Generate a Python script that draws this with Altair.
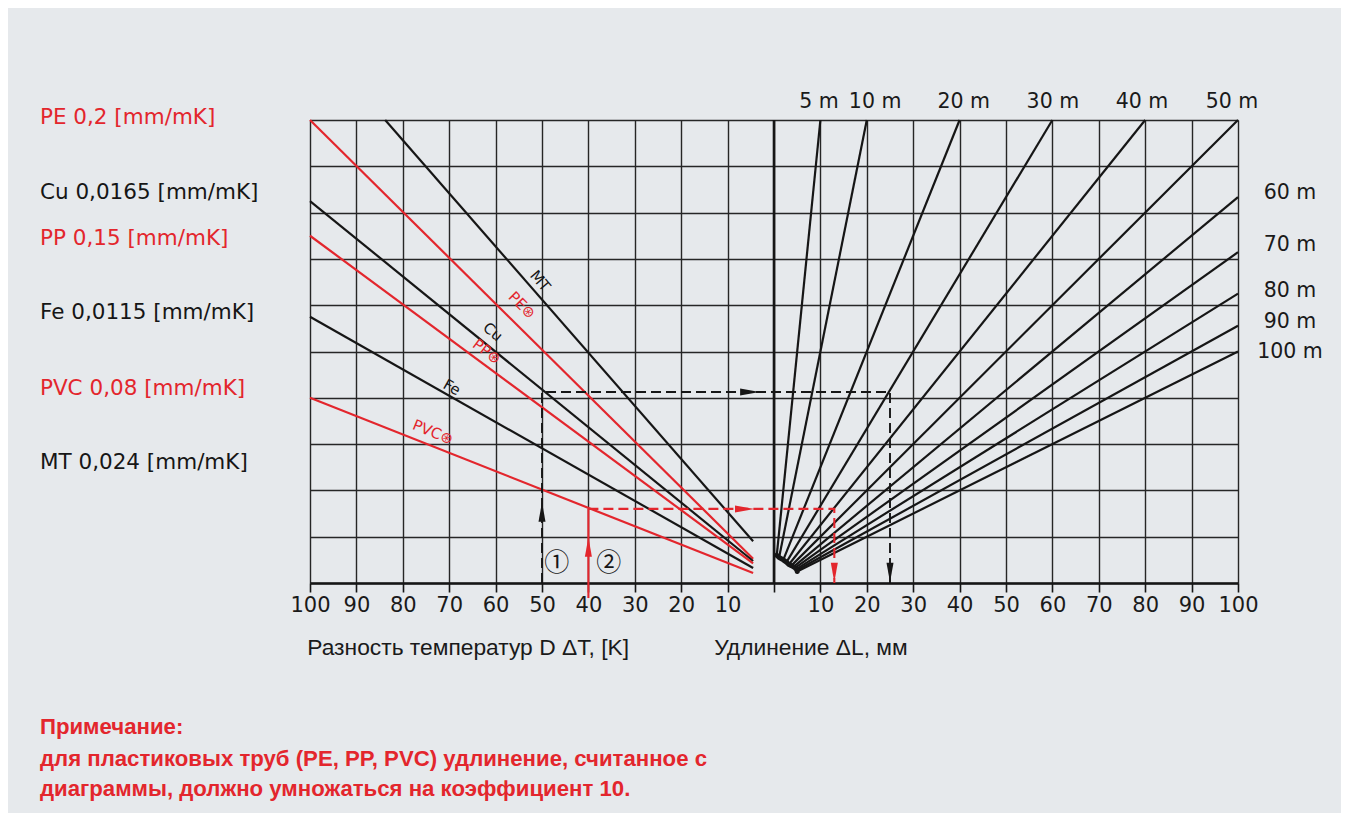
import altair as alt
import pandas as pd

RED = "#e3262d"
BLACK = "#161616"
BG = "#e6e9ec"
GRID = "#262626"

# ---- material lines (left panel, x = -dT) ----
mat_names = ["PE", "Cu", "PP", "Fe", "PVC", "MT"]
mat_legend = ["PE 0,2 [mm/mK]", "Cu 0,0165 [mm/mK]", "PP 0,15 [mm/mK]",
              "Fe 0,0115 [mm/mK]", "PVC 0,08 [mm/mK]", "MT 0,024 [mm/mK]"]
mat_colors = [RED, BLACK, RED, BLACK, RED, BLACK]
mat_x_start = [-100, -100, -100, -100, -100, -83.8]
mat_y_start = [2.0, 1.65, 1.5, 1.15, 0.8, 2.0]
mat_x_end = [-4.5, -4.5, -4.5, -4.5, -4.5, -4.5]
mat_y_end = [0.105, 0.095, 0.085, 0.065, 0.043, 0.18]
legend_y = [2.01, 1.685, 1.486, 1.166, 0.838, 0.518]

# labels written along the lines
lbl_text = ["MT", "PE\u229b", "Cu", "PP\u229b", "Fe", "PVC\u229b"]
lbl_color = [BLACK, RED, BLACK, RED, BLACK, RED]
lbl_x = [-50.4, -54.3, -60.6, -61.9, -69.4, -73.5]
lbl_y = [1.305, 1.2, 1.085, 1.0, 0.845, 0.652]
lbl_angle = [50, 45, 40, 37, 30, 22]

# ---- pipe length fan (right panel, x = dL in mm) ----
len_m = [5, 10, 20, 30, 40, 50, 60, 70, 80, 90, 100]
fan_x_top = [10, 20, 40, 60, 80, 100, 100, 100, 100, 100, 100]
fan_y_top = [2.0, 2.0, 2.0, 2.0, 2.0, 2.0, 1.667, 1.429, 1.25, 1.111, 1.0]
fan_x_bot = [0.6, 1.1, 2.0, 2.7, 3.2, 3.75, 4.2, 4.55, 4.8, 4.95, 5.0]
fan_y_bot = [0.12, 0.11, 0.10, 0.09, 0.08, 0.075, 0.07, 0.065, 0.06, 0.055, 0.05]
top_lbl = ["5 m", "10 m", "20 m", "30 m", "40 m", "50 m"]
top_lbl_x = [9.7, 21.8, 40.9, 60.1, 79.3, 98.7]
right_lbl = ["60 m", "70 m", "80 m", "90 m", "100 m"]
right_lbl_y = [1.685, 1.46, 1.261, 1.127, 0.998]

# ---- worked examples ----
ex1_x = [-50, -50, 25, 25]
ex1_y = [0.0, 0.825, 0.825, 0.0]
ex2_solid_x = [-40, -40]
ex2_solid_y = [-0.065, 0.32]
ex2_x = [-40, 13, 13]
ex2_y = [0.32, 0.32, 0.0]
arrow_x = [-50, -5.2, 25, -40, -6.3, 13]
arrow_y = [0.307, 0.825, 0.045, 0.155, 0.32, 0.045]
arrow_dir = ["up", "right", "down", "up", "right", "down"]
arrow_col = [BLACK, BLACK, BLACK, RED, RED, RED]
num_text = ["\u2460", "\u2461"]
num_x = [-46.8, -35.6]
num_y = [0.086, 0.086]

x_ticks = list(range(-100, 101, 10))
y_ticks = [round(i * 0.2, 1) for i in range(11)]

xscale = alt.Scale(domain=[-100, 100], nice=False, zero=False)
yscale = alt.Scale(domain=[0, 2], nice=False, zero=False)
xaxis = alt.Axis(values=x_ticks, labelExpr="datum.value == 0 ? '' : abs(datum.value)",
                 grid=True, gridColor=GRID, gridWidth=1.4, gridOpacity=1,
                 domainColor=BLACK, domainWidth=2.6, tickColor=BLACK, tickWidth=1.6,
                 tickSize=9, labelFont="DejaVu Sans", labelFontSize=21,
                 labelColor="#1a1a1a", labelPadding=2, title=None,
                 labelOverlap=False, labelFlush=False)
yaxis = alt.Axis(values=y_ticks, grid=True, gridColor=GRID, gridWidth=1.4, gridOpacity=1,
                 labels=False, ticks=False, domain=False, title=None)


def X(f="x"):
    return alt.X(f"{f}:Q", scale=xscale, axis=xaxis)


def Y(f="y"):
    return alt.Y(f"{f}:Q", scale=yscale, axis=yaxis)


# data frames
mat_rows = []
for i, n in enumerate(mat_names):
    mat_rows.append({"id": n, "x": mat_x_start[i], "y": mat_y_start[i], "c": mat_colors[i], "o": 0})
    mat_rows.append({"id": n, "x": mat_x_end[i], "y": mat_y_end[i], "c": mat_colors[i], "o": 1})
mat_df = pd.DataFrame(mat_rows)

fan_rows = []
for i, L in enumerate(len_m):
    fan_rows.append({"id": L, "x": fan_x_bot[i], "y": fan_y_bot[i], "o": 0})
    fan_rows.append({"id": L, "x": fan_x_top[i], "y": fan_y_top[i], "o": 1})
fan_df = pd.DataFrame(fan_rows)

grid_layer = alt.Chart(pd.DataFrame({"x": [0, 0], "y": [0, 2]})).mark_line(
    color=BLACK, strokeWidth=2.6).encode(x=X(), y=Y())

mat_layer = alt.Chart(mat_df).mark_line(strokeWidth=2.2).encode(
    x=X(), y=Y(), detail="id:N", order="o:Q", color=alt.Color("c:N", scale=None))

fan_layer = alt.Chart(fan_df).mark_line(strokeWidth=2.2, color=BLACK).encode(
    x=X(), y=Y(), detail="id:N", order="o:Q")

# ink blob where the fan lines meet (outline through the fan's bottom ends)
blob_df = pd.DataFrame({"x": fan_x_bot, "y": fan_y_bot, "o": list(range(len(fan_x_bot)))})
blob_layer = alt.Chart(blob_df).mark_line(strokeWidth=5, color=BLACK, strokeCap="round").encode(
    x=X(), y=Y(), order="o:Q")

ex1_df = pd.DataFrame({"x": ex1_x, "y": ex1_y, "o": list(range(len(ex1_x)))})
ex1_layer = alt.Chart(ex1_df).mark_line(color=BLACK, strokeWidth=1.9, strokeDash=[10, 5]).encode(
    x=X(), y=Y(), order="o:Q")
ex2s_df = pd.DataFrame({"x": ex2_solid_x, "y": ex2_solid_y, "o": [0, 1]})
ex2s_layer = alt.Chart(ex2s_df).mark_line(color=RED, strokeWidth=2.1).encode(
    x=X(), y=Y(), order="o:Q")
ex2_df = pd.DataFrame({"x": ex2_x, "y": ex2_y, "o": list(range(len(ex2_x)))})
ex2_layer = alt.Chart(ex2_df).mark_line(color=RED, strokeWidth=2.1, strokeDash=[10, 5]).encode(
    x=X(), y=Y(), order="o:Q")

shapes = {"up": "M-0.36,1 L0,-1 L0.36,1 Z",
          "right": "M-1,-0.36 L1,0 L-1,0.36 Z",
          "down": "M-0.36,-1 L0,1 L0.36,-1 Z"}
arrow_layers = []
for d in ["up", "right", "down"]:
    idx = [i for i, v in enumerate(arrow_dir) if v == d]
    df = pd.DataFrame({"x": [arrow_x[i] for i in idx], "y": [arrow_y[i] for i in idx],
                       "c": [arrow_col[i] for i in idx]})
    arrow_layers.append(alt.Chart(df).mark_point(shape=shapes[d], filled=True, size=380, opacity=1).encode(
        x=X(), y=Y(), color=alt.Color("c:N", scale=None)))

num_layer = alt.Chart(pd.DataFrame({"x": num_x, "y": num_y, "t": num_text})).mark_text(
    font="Noto Sans CJK JP", fontSize=25, color=BLACK, baseline="middle").encode(x=X(), y=Y(), text="t:N")

lbl_layer = alt.Chart(pd.DataFrame({"x": lbl_x, "y": lbl_y, "t": lbl_text, "c": lbl_color, "a": lbl_angle})).mark_text(
    font="DejaVu Sans", fontSize=15, baseline="middle").encode(
    x=X(), y=Y(), text="t:N", color=alt.Color("c:N", scale=None), angle=alt.Angle("a:Q", scale=None))

legend_layer = alt.Chart(pd.DataFrame({"x": [-158.2] * 6, "y": legend_y, "t": mat_legend, "c": mat_colors})).mark_text(
    font="DejaVu Sans", fontSize=21.5, align="left", baseline="middle").encode(
    x=X(), y=Y(), text="t:N", color=alt.Color("c:N", scale=None))

top_layer = alt.Chart(pd.DataFrame({"x": top_lbl_x, "y": [2.0] * 6, "t": top_lbl})).mark_text(
    font="DejaVu Sans", fontSize=20.5, baseline="middle", dy=-18, color="#1a1a1a").encode(
    x=X(), y=Y(), text="t:N")

right_layer = alt.Chart(pd.DataFrame({"x": [111.2] * 5, "y": right_lbl_y, "t": right_lbl})).mark_text(
    font="DejaVu Sans", fontSize=20.5, baseline="middle", color="#1a1a1a").encode(
    x=X(), y=Y(), text="t:N")

titles_layer = alt.Chart(pd.DataFrame({"x": [-100.6, -12.9], "y": [-0.281, -0.281],
                                       "t": ["Разность температур D \u0394T, [K]", "Удлинение \u0394L, мм"]})).mark_text(
    font="Liberation Sans", fontSize=22.8, align="left", baseline="middle", color="#1a1a1a").encode(
    x=X(), y=Y(), text="t:N")

note_lines = ["Примечание:",
              "для пластиковых труб (PE, PP, PVC) удлинение, считанное с",
              "диаграммы, должно умножаться на коэффициент 10."]
note_y = [-0.622, -0.760, -0.890]
note_layer = alt.Chart(pd.DataFrame({"x": [-158.2] * 3, "y": note_y, "t": note_lines})).mark_text(
    font="Liberation Sans", fontSize=22.2, fontWeight="bold", align="left", baseline="middle", color=RED).encode(
    x=X(), y=Y(), text="t:N")

chart = alt.layer(
    grid_layer, mat_layer, fan_layer, blob_layer, ex1_layer, ex2s_layer, ex2_layer,
    *arrow_layers, num_layer, lbl_layer, legend_layer, top_layer, right_layer,
    titles_layer, note_layer
).properties(
    width=928, height=463, background=BG,
    autosize=alt.AutoSizeParams(type="none"),
    padding={"left": 302, "top": 112, "right": 103, "bottom": 230}
).configure_view(stroke=None)

chart.save("out.html", embed_options={"renderer": "svg", "actions": False})
